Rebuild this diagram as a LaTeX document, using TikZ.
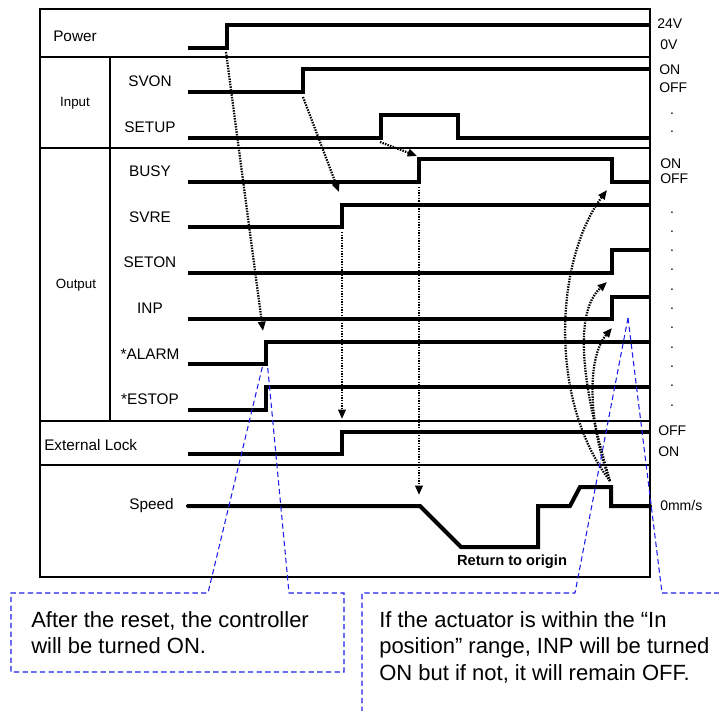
\documentclass[tikz,border=0pt]{standalone}
\usepackage{fontspec}
\setmainfont{Liberation Sans}
\usetikzlibrary{arrows.meta}
\definecolor{NoteBlue}{RGB}{30,30,235}

\begin{document}
\begin{tikzpicture}[x=0.75pt, y=-0.75pt,
          frame/.style={line width=1.4pt},
          sig/.style={line width=3pt, line join=miter},
          lbl/.style={font=\fontsize{11.5}{13}\selectfont, inner sep=0pt},
          grp/.style={font=\fontsize{10}{12}\selectfont, inner sep=0pt},
          tag/.style={font=\fontsize{10.5}{12}\selectfont, anchor=west, inner sep=0pt},
          dotarr/.style={-{Triangle[length=7pt,width=5.5pt]}, line width=1.7pt,
                         dash pattern=on 1.1pt off 0.9pt},
          call/.style={NoteBlue, line width=0.8pt, dash pattern=on 4pt off 2.5pt},
          note/.style={font=\fontsize{16.5}{20}\selectfont, anchor=north west,
                       align=left, inner sep=0pt}
        ]
        \useasboundingbox (0,0) rectangle (719,711);

        % table frame
        \draw[frame] (40,9) rectangle (650,577);
        \draw[frame] (40,57) -- (650,57);
        \draw[frame] (40,148) -- (650,148);
        \draw[frame] (40,421) -- (650,421);
        \draw[frame] (40,465) -- (650,465);
        \draw[frame] (110,57) -- (110,421);

        % row names
        \node[lbl, anchor=west] (power) at (53,36) {Power};
        \node[grp] (input) at (75,103) {Input};
        \node[grp] (output) at (76,285) {Output};
        \node[lbl] (svon) at (150,81) {SVON};
        \node[lbl] (setup) at (150,127) {SETUP};
        \node[lbl] (busy) at (150,171) {BUSY};
        \node[lbl] (svre) at (150,217) {SVRE};
        \node[lbl] (seton) at (150,262) {SETON};
        \node[lbl] (inp) at (150,308) {INP};
        \node[lbl] (alarm) at (150,354) {*ALARM};
        \node[lbl] (estop) at (150,399) {*ESTOP};
        \node[lbl, anchor=west] (lock) at (44,445) {External Lock};
        \node[lbl, anchor=east] (speed) at (174,506) {Speed};

        % levels on the right
        \node[tag] (v24) at (657,24) {24V};
        \node[tag] (v0) at (660,45) {0V};
        \node[tag] (in-on) at (659,70) {ON};
        \node[tag] (in-off) at (659,88) {OFF};
        \node[tag] (out-on) at (660,164) {ON};
        \node[tag] (out-off) at (660,179) {OFF};
        \node[tag] (lk-off) at (658,431) {OFF};
        \node[tag] (lk-on) at (658,452) {ON};
        \node[tag] (zero) at (660,505) {0mm/s};
        \foreach \y [count=\i] in {112,130}
          \node[tag, anchor=base] (idot\i) at (672,\y+2) {.};
        \foreach \k in {0,...,10}
          \node[tag, anchor=base] (odot\k) at (672,213+19.3*\k) {.};

        % signals
        \draw[sig] (188,48) -- (227,48) -- (227,25) -- (650,25);
        \draw[sig] (188,92) -- (303,92) -- (303,69) -- (650,69);
        \draw[sig] (188,138) -- (381,138) -- (381,115) -- (458,115)
              -- (458,138) -- (650,138);
        \draw[sig] (188,182) -- (419,182) -- (419,159) -- (612,159)
              -- (612,182) -- (650,182);
        \draw[sig] (188,227) -- (342,227) -- (342,205) -- (650,205);
        \draw[sig] (188,273) -- (612,273) -- (612,250) -- (650,250);
        \draw[sig] (188,319) -- (612,319) -- (612,297) -- (650,297);
        \draw[sig] (188,364) -- (266,364) -- (266,342) -- (650,342);
        \draw[sig] (188,410) -- (266,410) -- (266,387) -- (650,387);
        \draw[sig] (188,454) -- (342,454) -- (342,432) -- (650,432);
        \draw[sig, line cap=round] (188,506) -- (420,506) -- (461,547) -- (538,547)
              -- (538,506) -- (570,506) -- (580,487) -- (611,487)
              -- (611,506) -- (650,506);
        \node[font=\fontsize{11}{13}\selectfont\bfseries, inner sep=0pt] (origin)
              at (512,562) {Return to origin};

        % cause -> effect
        \coordinate (pwr-up) at (226,52);
        \coordinate (svon-up) at (303,97);
        \coordinate (setup-up) at (380,142);
        \coordinate (svre-up) at (342,232);
        \coordinate (busy-up) at (419,187);
        \coordinate (stop) at (610,481);
        \coordinate (alarm-up) at (263,331);
        \coordinate (svre-in) at (339,192);
        \coordinate (busy-in) at (417,156);
        \coordinate (lock-up) at (342,419);
        \coordinate (decel) at (419,495);
        \coordinate (busy-dn) at (607,190);
        \coordinate (seton-up) at (607,282);
        \coordinate (inp-up) at (612,328);

        \draw[dotarr] (pwr-up) -- (alarm-up);
        \draw[dotarr] (svon-up) -- (svre-in);
        \draw[dotarr] (setup-up) -- (busy-in);
        \draw[dotarr] (svre-up) -- (lock-up);
        \draw[dotarr] (busy-up) -- (decel);
        \draw[dotarr] (stop) .. controls (548,400) and (555,260) .. (busy-dn);
        \draw[dotarr] (stop) .. controls (595,430) and (565,320) .. (seton-up);
        \draw[dotarr] (stop) .. controls (590,430) and (585,360) .. (inp-up);

        % notes
        \coordinate (alarm-tip) at (265,367);
        \coordinate (inp-tip) at (628,318);
        \draw[call] ([xshift=-2]alarm-tip) -- (208,593) -- (11,593) -- (11,672)
              -- (344,672) -- (344,593) -- (289,593) -- ([xshift=2]alarm-tip);
        \draw[call] (inp-tip) -- (575,593) -- (362,593) -- (362,711);
        \draw[call] (inp-tip) -- (662,593) -- (719,593);
        \node[note] (note1) at (31,611)
              {After the reset, the controller\\will be turned ON.};
        \node[note] (note2) at (379,611)
              {If the actuator is within the “In\\position” range, INP will be turned\\ON but if not, it will remain OFF.};
      \end{tikzpicture}
\end{document}
